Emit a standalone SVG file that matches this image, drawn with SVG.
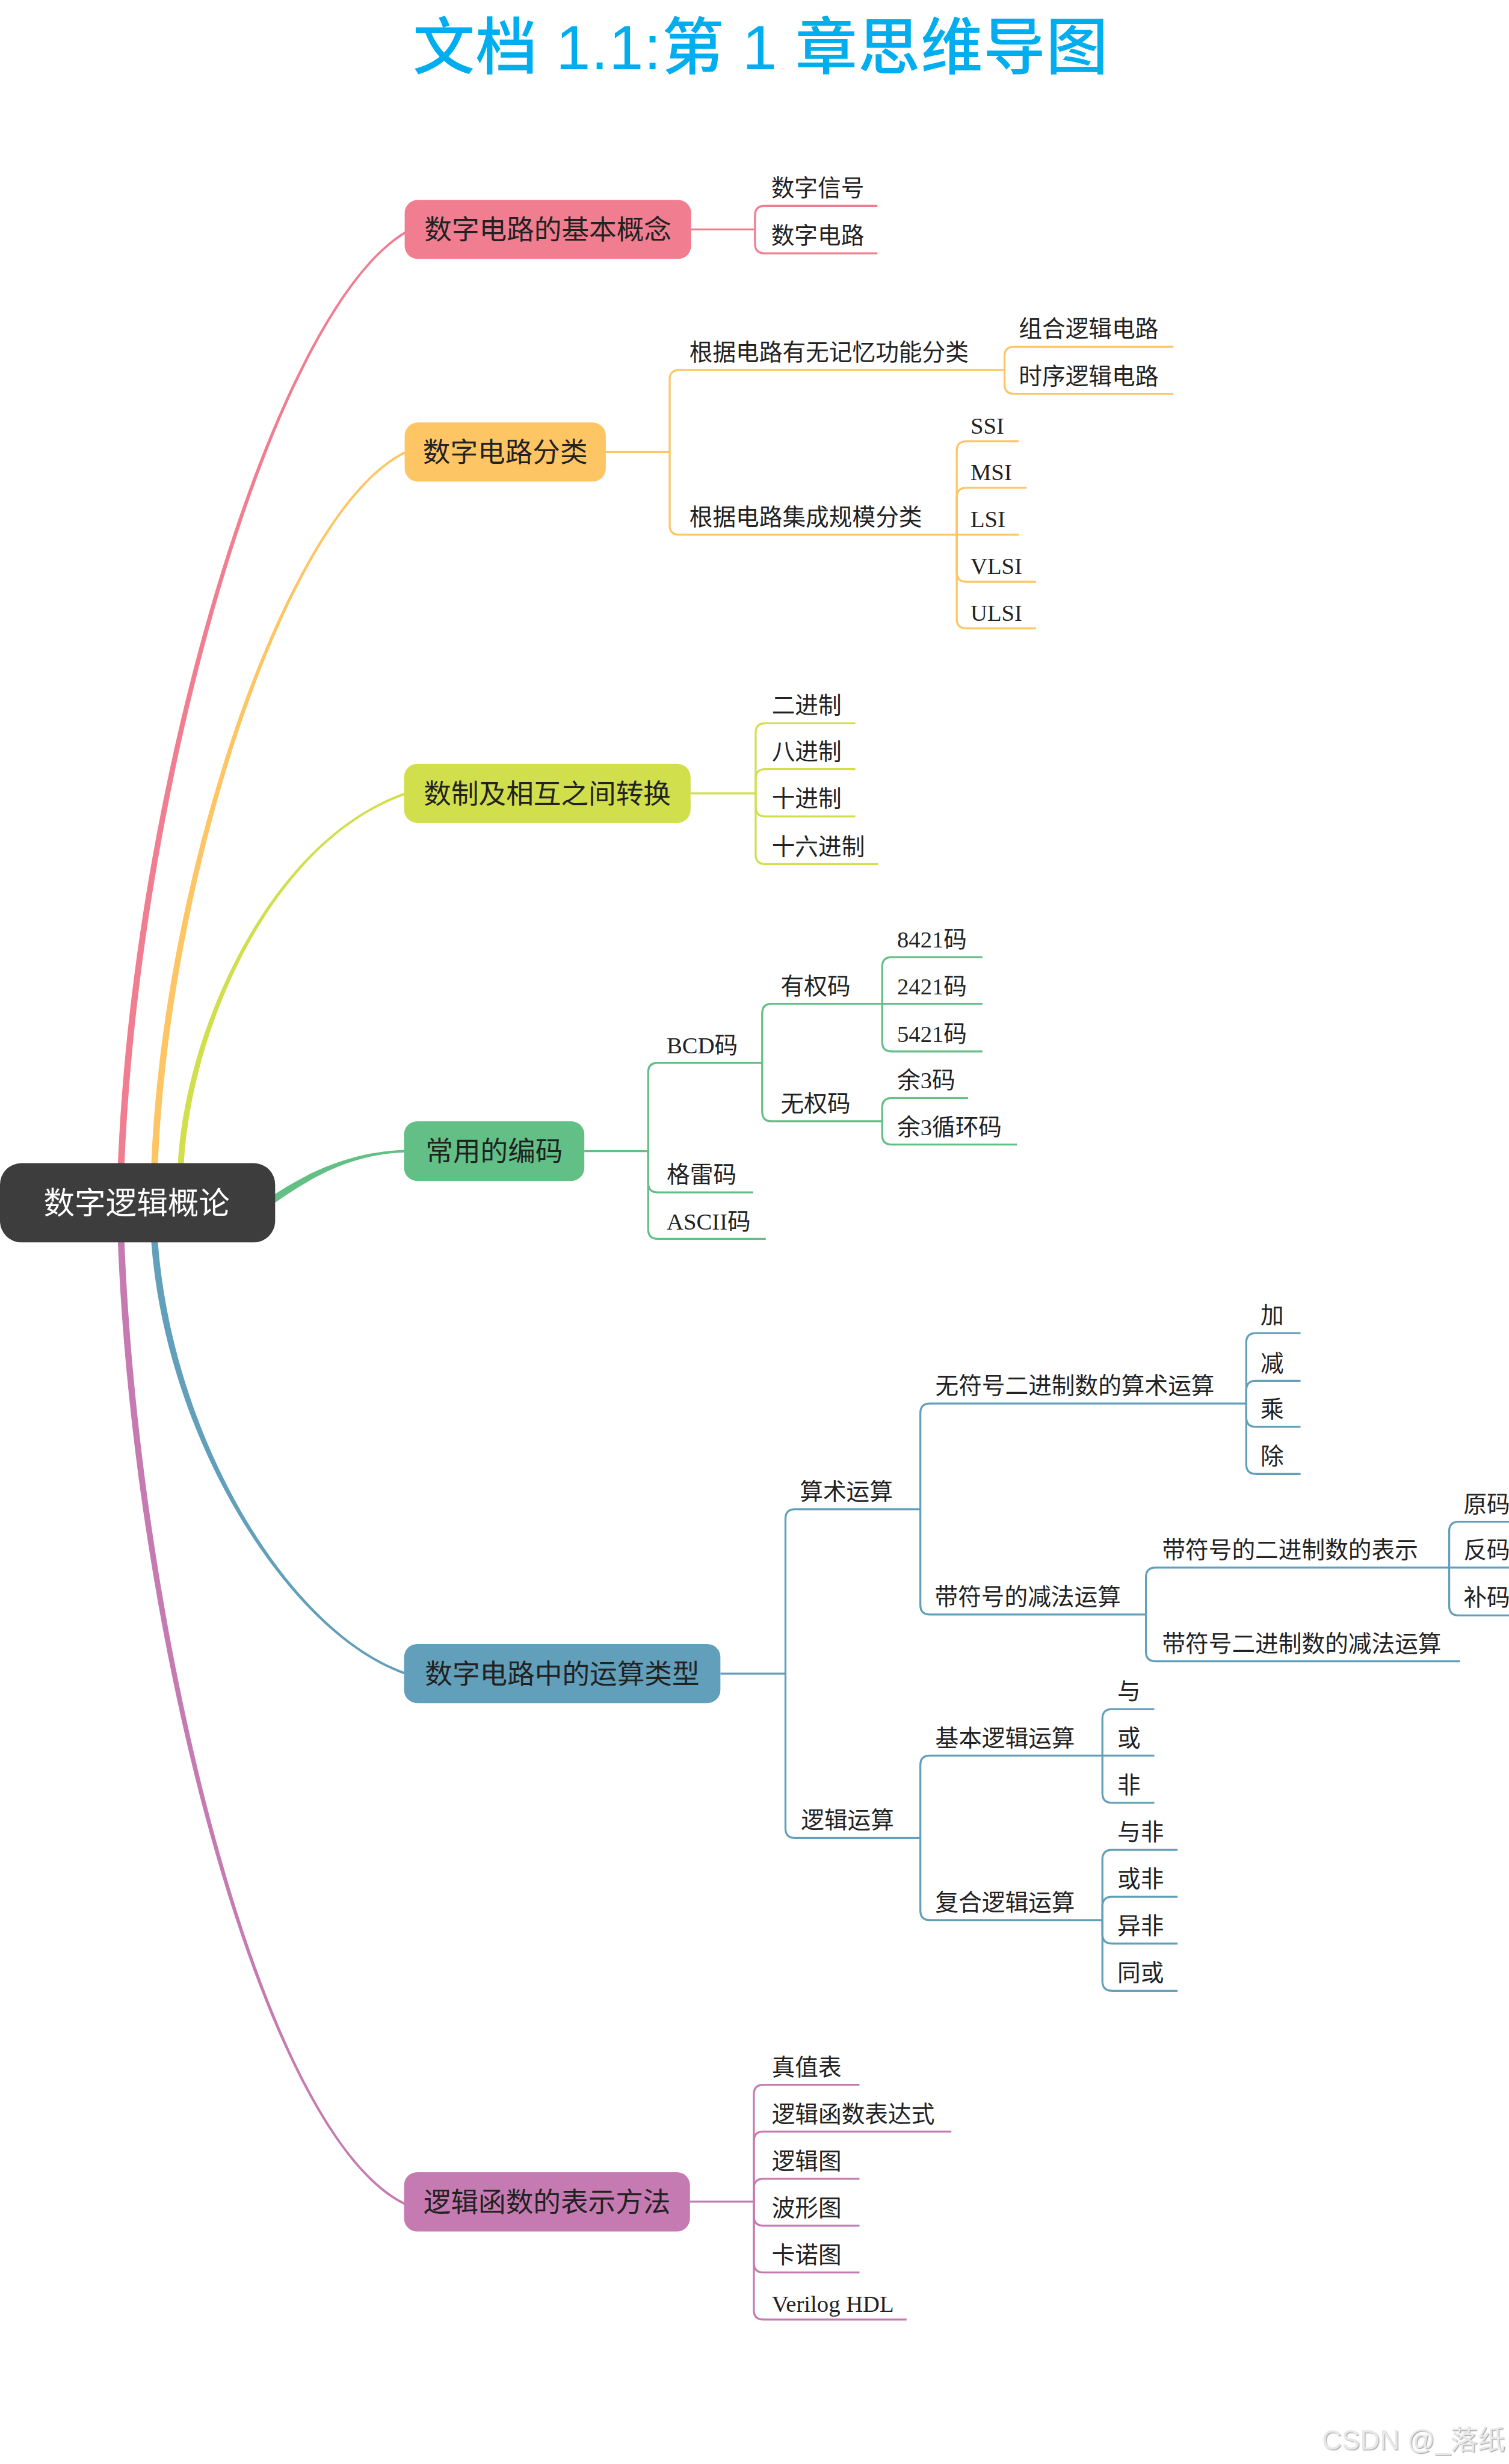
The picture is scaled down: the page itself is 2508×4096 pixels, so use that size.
<svg xmlns="http://www.w3.org/2000/svg" width="2508" height="4096" viewBox="0 0 2508 4096">
<defs>
<style>
.sub{font-family:"Liberation Serif","Noto Sans CJK SC",serif;font-size:39px;fill:#222}
.main{font-family:"Liberation Serif","Noto Sans CJK SC",serif;font-size:46px;fill:#222;text-anchor:middle}
.ln{fill:none;stroke-width:3.3;stroke-linecap:butt}
.pk{stroke:#F07D90}.or{stroke:#FEC564}.yg{stroke:#D1DF4C}.gr{stroke:#62BF85}.bl{stroke:#619FBA}.pu{stroke:#C57BB1}
</style>
<filter id="emb" x="-5%" y="-20%" width="110%" height="140%">
<feDropShadow dx="1.5" dy="1.5" stdDeviation="0.7" flood-color="#9a9a9a" flood-opacity="0.8"/>
</filter>
</defs>
<rect width="2508" height="4096" fill="#ffffff"/>
<g transform="scale(0.992)">
<text id="title" x="1274" y="116" font-family="'Liberation Sans','Noto Sans CJK SC',sans-serif" font-size="104" font-weight="500" fill="#00AEEF" text-anchor="middle" textLength="1165" lengthAdjust="spacing">文档 1.1:第 1 章思维导图</text>

<g id="connectors">
<g id="main-curves">
<path fill="#F07D90" d="M208.5 2000 L208.5 1950 C235.5 1300 461.04 521.71 681.04 390.71 L678.96 387.29 C458.96 518.29 224.5 1299.8 197.5 1950 L197.5 2000 Z"/>
<path fill="#FEC564" d="M264.5 2000 L264.5 1950 C285.5 1450.2 485.86 851.81 680.86 759.31 L679.14 755.69 C484.14 848.19 274.5 1449.8 253.5 1950 L253.5 2000 Z"/>
<path fill="#D1DF4C" d="M308 2000 L308 1950 C320 1730.3 450.66 1411.89 680.66 1331.39 L679.34 1327.61 C449.34 1408.11 310 1729.7 298 1950 L298 2000 Z"/>
<path fill="#62BF85" d="M440 2030 L458.35 2016.98 C513.35 1979.98 580.06 1934 680.06 1931 L679.94 1927 C579.94 1930 506.65 1970.02 451.65 2007.02 L430 2022 Z"/>
<path fill="#619FBA" d="M253.5 2040 L253.5 2082.4 C279.5 2420.4 489.36 2741.9 679.36 2806.4 L680.64 2802.6 C490.64 2738.1 290.5 2419.6 264.5 2081.6 L264.5 2040 Z"/>
<path fill="#C57BB1" d="M197.5 2040 L197.5 2082.2 C224.5 2750.2 439.14 3581.81 679.14 3695.81 L680.86 3692.19 C440.86 3578.19 235.5 2749.8 208.5 2081.8 L208.5 2040 Z"/>
</g>
<g class="ln pk">
<path d="M1158 384.5 H1265"/>
<path d="M1265 384.5 V361 Q1265 345 1281 345 H1470"/>
<path d="M1265 384.5 V408.5 Q1265 424.5 1281 424.5 H1470"/>
</g>
<g class="ln or">
<path d="M1015 757.5 H1122"/>
<path d="M1122 757.5 V636 Q1122 620 1138 620 H1683"/>
<path d="M1122 757.5 V880 Q1122 896 1138 896 H1603"/>
<path d="M1683 620 V597 Q1683 581 1699 581 H1966"/>
<path d="M1683 620 V644 Q1683 660 1699 660 H1966"/>
<path d="M1603 896 V755.5 Q1603 739.5 1619 739.5 H1707"/>
<path d="M1603 896 V833.5 Q1603 817.5 1619 817.5 H1720"/>
<path d="M1603 896 H1707"/>
<path d="M1603 896 V959 Q1603 975 1619 975 H1736"/>
<path d="M1603 896 V1037 Q1603 1053 1619 1053 H1736"/>
</g>
<g class="ln yg">
<path d="M1157 1329.5 H1266"/>
<path d="M1266 1329.5 V1228 Q1266 1212 1282 1212 H1433"/>
<path d="M1266 1329.5 V1305 Q1266 1289 1282 1289 H1433"/>
<path d="M1266 1329.5 V1352 Q1266 1368 1282 1368 H1433"/>
<path d="M1266 1329.5 V1432 Q1266 1448 1282 1448 H1471"/>
</g>
<g class="ln gr">
<path d="M979 1929 H1086"/>
<path d="M1086 1929 V1797 Q1086 1781 1102 1781 H1277"/>
<path d="M1086 1929 V1982 Q1086 1998 1102 1998 H1262"/>
<path d="M1086 1929 V2060 Q1086 2076 1102 2076 H1283"/>
<path d="M1277 1781 V1698 Q1277 1682 1293 1682 H1478"/>
<path d="M1277 1781 V1863 Q1277 1879 1293 1879 H1478"/>
<path d="M1478 1682 V1620 Q1478 1604 1494 1604 H1646"/>
<path d="M1478 1682 H1646"/>
<path d="M1478 1682 V1746 Q1478 1762 1494 1762 H1646"/>
<path d="M1478 1879 V1856 Q1478 1840 1494 1840 H1622"/>
<path d="M1478 1879 V1902 Q1478 1918 1494 1918 H1704"/>
</g>
<g class="ln bl">
<path d="M1207 2804.5 H1316"/>
<path d="M1316 2804.5 V2545 Q1316 2529 1332 2529 H1542"/>
<path d="M1316 2804.5 V3064 Q1316 3080 1332 3080 H1542"/>
<path d="M1542 2529 V2368 Q1542 2352 1558 2352 H2088"/>
<path d="M1542 2529 V2689.5 Q1542 2705.5 1558 2705.5 H1920"/>
<path d="M2088 2352 V2250 Q2088 2234 2104 2234 H2179"/>
<path d="M2088 2352 V2330 Q2088 2314 2104 2314 H2179"/>
<path d="M2088 2352 V2375 Q2088 2391 2104 2391 H2179"/>
<path d="M2088 2352 V2454 Q2088 2470 2104 2470 H2179"/>
<path d="M1920 2705.5 V2643 Q1920 2627 1936 2627 H2428"/>
<path d="M1920 2705.5 V2768 Q1920 2784 1936 2784 H2446"/>
<path d="M2428 2627 V2566 Q2428 2550 2444 2550 H2540"/>
<path d="M2428 2627 H2540"/>
<path d="M2428 2627 V2691 Q2428 2707 2444 2707 H2540"/>
<path d="M1542 3080 V2958 Q1542 2942 1558 2942 H1847"/>
<path d="M1542 3080 V3201.6 Q1542 3217.6 1558 3217.6 H1847"/>
<path d="M1847 2942 V2880 Q1847 2864 1863 2864 H1934"/>
<path d="M1847 2942 H1934"/>
<path d="M1847 2942 V3005 Q1847 3021 1863 3021 H1934"/>
<path d="M1847 3217.6 V3116 Q1847 3100 1863 3100 H1973"/>
<path d="M1847 3217.6 V3194.6 Q1847 3178.6 1863 3178.6 H1973"/>
<path d="M1847 3217.6 V3241 Q1847 3257 1863 3257 H1973"/>
<path d="M1847 3217.6 V3320 Q1847 3336 1863 3336 H1973"/>
</g>
<g class="ln pu">
<path d="M1156 3689.5 H1263"/>
<path d="M1263 3689.5 V3509.5 Q1263 3493.5 1279 3493.5 H1440"/>
<path d="M1263 3689.5 V3588 Q1263 3572 1279 3572 H1594"/>
<path d="M1263 3689.5 V3667 Q1263 3651 1279 3651 H1440"/>
<path d="M1263 3689.5 V3713.6 Q1263 3729.6 1279 3729.6 H1440"/>
<path d="M1263 3689.5 V3792 Q1263 3808 1279 3808 H1440"/>
<path d="M1263 3689.5 V3871 Q1263 3887 1279 3887 H1519"/>
</g>
</g>

<g id="root">
<rect x="0" y="1949" width="461" height="133" rx="36" fill="#3D3D3D"/>
<text x="229" y="2034" font-family="'Liberation Serif','Noto Sans CJK SC',serif" font-size="52" fill="#ffffff" text-anchor="middle">数字逻辑概论</text>
</g>

<g id="n1">
<rect x="678" y="335" width="480" height="99" rx="22" fill="#F07D90"/>
<text class="main" x="918" y="401.5">数字电路的基本概念</text>
</g>
<g id="n1-1"><text class="sub" x="1292" y="329">数字信号</text></g>
<g id="n1-2"><text class="sub" x="1292" y="408.5">数字电路</text></g>

<g id="n2">
<rect x="678" y="708" width="337" height="99" rx="22" fill="#FEC564"/>
<text class="main" x="846.5" y="774.5">数字电路分类</text>
</g>
<g id="n2-1"><text class="sub" x="1155" y="604">根据电路有无记忆功能分类</text></g>
<g id="n2-1-1"><text class="sub" x="1707" y="565">组合逻辑电路</text></g>
<g id="n2-1-2"><text class="sub" x="1707" y="644">时序逻辑电路</text></g>
<g id="n2-2"><text class="sub" x="1155" y="880">根据电路集成规模分类</text></g>
<g id="n2-2-1"><text class="sub" x="1626" y="726.5">SSI</text></g>
<g id="n2-2-2"><text class="sub" x="1626" y="804.5">MSI</text></g>
<g id="n2-2-3"><text class="sub" x="1626" y="883">LSI</text></g>
<g id="n2-2-4"><text class="sub" x="1626" y="962">VLSI</text></g>
<g id="n2-2-5"><text class="sub" x="1626" y="1040">ULSI</text></g>

<g id="n3">
<rect x="677" y="1280" width="480" height="99" rx="22" fill="#D1DF4C"/>
<text class="main" x="917" y="1346.5">数制及相互之间转换</text>
</g>
<g id="n3-1"><text class="sub" x="1293" y="1196">二进制</text></g>
<g id="n3-2"><text class="sub" x="1293" y="1273">八进制</text></g>
<g id="n3-3"><text class="sub" x="1293" y="1352">十进制</text></g>
<g id="n3-4"><text class="sub" x="1293" y="1432">十六进制</text></g>

<g id="n4">
<rect x="677" y="1879" width="302" height="100" rx="22" fill="#62BF85"/>
<text class="main" x="828" y="1946">常用的编码</text>
</g>
<g id="n4-1"><text class="sub" x="1117" y="1765">BCD码</text></g>
<g id="n4-1-1"><text class="sub" x="1308" y="1666">有权码</text></g>
<g id="n4-1-1-1"><text class="sub" x="1503" y="1588">8421码</text></g>
<g id="n4-1-1-2"><text class="sub" x="1503" y="1666">2421码</text></g>
<g id="n4-1-1-3"><text class="sub" x="1503" y="1746">5421码</text></g>
<g id="n4-1-2"><text class="sub" x="1308" y="1863">无权码</text></g>
<g id="n4-1-2-1"><text class="sub" x="1503" y="1824">余3码</text></g>
<g id="n4-1-2-2"><text class="sub" x="1503" y="1902">余3循环码</text></g>
<g id="n4-2"><text class="sub" x="1117" y="1982">格雷码</text></g>
<g id="n4-3"><text class="sub" x="1117" y="2060">ASCII码</text></g>

<g id="n5">
<rect x="677" y="2755" width="530" height="99" rx="22" fill="#619FBA"/>
<text class="main" x="942" y="2821.5">数字电路中的运算类型</text>
</g>
<g id="n5-1"><text class="sub" x="1340" y="2513">算术运算</text></g>
<g id="n5-1-1"><text class="sub" x="1567" y="2336">无符号二进制数的算术运算</text></g>
<g id="n5-1-1-1"><text class="sub" x="2112" y="2218">加</text></g>
<g id="n5-1-1-2"><text class="sub" x="2112" y="2298">减</text></g>
<g id="n5-1-1-3"><text class="sub" x="2112" y="2375">乘</text></g>
<g id="n5-1-1-4"><text class="sub" x="2112" y="2454">除</text></g>
<g id="n5-1-2"><text class="sub" x="1566" y="2689.5">带符号的减法运算</text></g>
<g id="n5-1-2-1"><text class="sub" x="1947" y="2611">带符号的二进制数的表示</text></g>
<g id="n5-1-2-1-1"><text class="sub" x="2452" y="2534">原码</text></g>
<g id="n5-1-2-1-2"><text class="sub" x="2452" y="2611">反码</text></g>
<g id="n5-1-2-1-3"><text class="sub" x="2452" y="2691">补码</text></g>
<g id="n5-1-2-2"><text class="sub" x="1947" y="2768">带符号二进制数的减法运算</text></g>
<g id="n5-2"><text class="sub" x="1342" y="3064">逻辑运算</text></g>
<g id="n5-2-1"><text class="sub" x="1567" y="2926">基本逻辑运算</text></g>
<g id="n5-2-1-1"><text class="sub" x="1872" y="2848">与</text></g>
<g id="n5-2-1-2"><text class="sub" x="1872" y="2926">或</text></g>
<g id="n5-2-1-3"><text class="sub" x="1872" y="3005">非</text></g>
<g id="n5-2-2"><text class="sub" x="1567" y="3201.6">复合逻辑运算</text></g>
<g id="n5-2-2-1"><text class="sub" x="1872" y="3084">与非</text></g>
<g id="n5-2-2-2"><text class="sub" x="1872" y="3162.6">或非</text></g>
<g id="n5-2-2-3"><text class="sub" x="1872" y="3241">异非</text></g>
<g id="n5-2-2-4"><text class="sub" x="1872" y="3320">同或</text></g>

<g id="n6">
<rect x="677" y="3640" width="479" height="99.5" rx="22" fill="#C57BB1"/>
<text class="main" x="916.5" y="3707">逻辑函数的表示方法</text>
</g>
<g id="n6-1"><text class="sub" x="1293" y="3477.5">真值表</text></g>
<g id="n6-2"><text class="sub" x="1293" y="3556">逻辑函数表达式</text></g>
<g id="n6-3"><text class="sub" x="1293" y="3635">逻辑图</text></g>
<g id="n6-4"><text class="sub" x="1293" y="3713.6">波形图</text></g>
<g id="n6-5"><text class="sub" x="1293" y="3792">卡诺图</text></g>
<g id="n6-6"><text class="sub" x="1293" y="3874">Verilog HDL</text></g>

<text id="watermark" x="2522" y="4105" font-family="'Liberation Sans','Noto Sans CJK SC',sans-serif" font-size="46" fill="#e8e8e8" text-anchor="end" filter="url(#emb)">CSDN @_落纸</text>
</g>
</svg>
